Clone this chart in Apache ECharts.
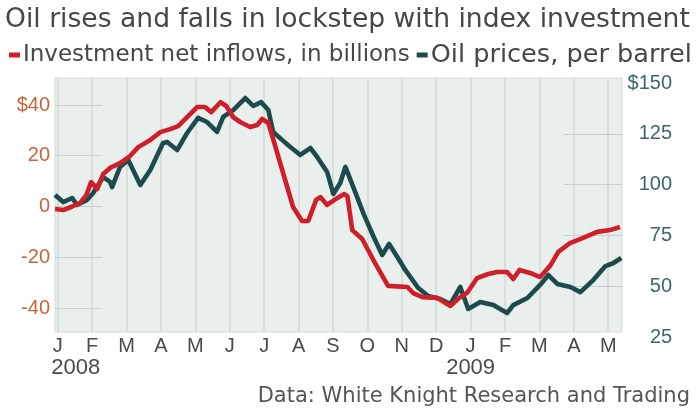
<!DOCTYPE html>
<html>
<head>
<meta charset="utf-8">
<script src="https://cdn.jsdelivr.net/npm/echarts@6/dist/echarts.min.js"></script>
<style>
html,body{margin:0;padding:0;background:#fff;}
#chart{width:697px;height:409px;}
</style>
</head>
<body>
<div id="chart"></div>
<script>
// ---- data (x in months since Jan 1 2008) ----
const monthLetters = ['J','F','M','A','M','J','J','A','S','O','N','D','J','F','M','A','M'];
const yearTexts = ['2008', '2009'];
const yearPositions = [0.52, 12];   // where each year label is centred, in months
const leftTicks = [-40, -20, 0, 20, 40];
const rightTicks = [50, 75, 100, 125, 150];
const rightBottomTickLabel = '25';

const investMonths = [-0.08,0.16,0.42,0.65,0.83,0.97,1.15,1.32,1.52,1.81,2.1,2.34,2.69,2.98,3.27,3.5,3.79,4.05,4.28,4.46,4.73,4.9,5.1,5.3,5.59,5.8,5.94,6.12,6.26,6.55,6.84,7.1,7.28,7.51,7.63,7.83,8.12,8.33,8.42,8.56,8.85,9.17,9.6,10.16,10.33,10.6,11.03,11.41,11.67,11.9,12.19,12.51,12.77,13.06,13.24,13.42,13.73,14.02,14.31,14.55,14.89,15.27,15.68,16.05,16.34];
const investValues = [-1,-1.4,0,1.4,4.5,9.6,6.9,12.8,15.2,17.1,19.9,23.4,26.2,29.3,30.5,31.7,35.6,39.2,39.2,37.2,41.1,39.6,35.2,33.3,31.3,32.1,34.5,32.9,26.6,13.2,-0.2,-5.7,-5.7,2.6,3.7,0.6,3.3,4.9,4.1,-9.3,-12.8,-21,-31.3,-31.7,-34.1,-35.7,-36,-39.2,-36,-34,-28.2,-26.6,-25.8,-25.8,-28.6,-25,-26.2,-27.8,-23.4,-17.9,-14.4,-12.4,-10,-9.3,-8.1];

const oilMonths = [-0.08,0.16,0.42,0.56,0.85,1.03,1.32,1.52,1.58,1.81,2.05,2.4,2.69,3.06,3.18,3.47,3.76,4.08,4.34,4.63,4.81,5.1,5.45,5.68,5.91,6.12,6.26,6.52,6.76,7.05,7.34,7.54,7.83,8.01,8.21,8.36,8.59,8.88,9.17,9.43,9.63,9.87,10.1,10.48,10.77,11.12,11.41,11.7,11.93,12.28,12.66,13.06,13.24,13.65,14.02,14.26,14.52,14.9,15.19,15.54,15.92,16.15,16.38];
const oilValues = [94.9,91.4,93.4,90,92.4,95.9,103.7,101.3,98.8,108.7,112.1,99.8,107.2,120.5,121,117,125.4,132.8,130.8,125.9,133.3,136.7,142.6,138.7,140.6,136.7,125.9,122,118.5,114.6,118,113.6,106.2,95.4,100.8,108.7,98.8,86,74.7,65.4,70.8,64.4,58,49.1,45.2,43.7,41.2,49.6,38.8,42.2,40.7,36.8,40.7,44.2,50.6,55.5,51.1,49.6,47.1,52.6,59.9,61.4,63.9];

// ---- layout constants ----
const X_MIN = -0.08, X_MAX = 16.4;
const LEFT_MIN = -49.46, LEFT_MAX = 50.64;
const RIGHT_MIN = 27.46, RIGHT_MAX = 152.46;
const LEFT_STUB_END = 1.3, RIGHT_STUB_START = 14.7;

const RED = '#cf1f2b', TEAL = '#1d4a4b';
const SANS = 'DejaVu Sans';
const ARIAL = 'Liberation Sans';
const INVEST_NAME = 'Investment net inflows, in billions';
const OIL_NAME = 'Oil prices, per barrel';

const zip = (a, b) => a.map((x, i) => [x, b[i]]);
const monthIdx = monthLetters.map((_, i) => i);

const chart = echarts.init(document.getElementById('chart'), null, { renderer: 'canvas' });

const stubStyle = { color: '#c6cfcc', width: 1, type: 'solid' };

chart.setOption({
  animation: false,
  backgroundColor: '#ffffff',
  title: [
    {
      text: 'Oil rises and falls in lockstep with index investment',
      left: 0, top: 2,
      textStyle: { fontFamily: SANS, fontSize: 26.6, fontWeight: 'normal', color: '#474747' }
    },
    {
      text: 'Data: White Knight Research and Trading',
      right: 2, top: 381,
      textStyle: { fontFamily: SANS, fontSize: 21, fontWeight: 'normal', color: '#555555' }
    }
  ],
  legend: {
    data: [INVEST_NAME, OIL_NAME],
    left: 4, top: 37,
    icon: 'rect', itemWidth: 11, itemHeight: 5, itemGap: 7,
    formatter: name => (name === INVEST_NAME ? '{a|' + name + '}' : '{b|' + name + '}'),
    textStyle: {
      fontFamily: SANS, color: '#474747', padding: [0, 0, 0, -2],
      rich: {
        a: { fontFamily: SANS, fontSize: 23, color: '#474747' },
        b: { fontFamily: SANS, fontSize: 25.6, color: '#474747' }
      }
    }
  },
  grid: {
    left: 55, right: 75, top: 78, bottom: 77,
    show: true, backgroundColor: '#e8efec', borderColor: '#d3dad7', borderWidth: 1
  },
  xAxis: [
    {
      type: 'value', min: X_MIN, max: X_MAX, position: 'bottom',
      axisLine: { show: false, onZero: false },
      axisTick: { show: false, customValues: monthIdx },
      splitLine: { show: true, lineStyle: { color: '#d2d9d6', width: 1.5 } },
      axisLabel: {
        customValues: monthIdx,
        showMinLabel: true, showMaxLabel: true, hideOverlap: false,
        margin: 4,
        fontFamily: ARIAL, fontSize: 20, color: '#4a4a4a',
        formatter: v => monthLetters[Math.round(v)]
      }
    },
    {
      type: 'value', min: X_MIN, max: X_MAX, position: 'bottom',
      axisLine: { show: false, onZero: false },
      axisTick: { show: false, customValues: yearPositions },
      splitLine: { show: false },
      axisLabel: {
        customValues: yearPositions,
        showMinLabel: true, showMaxLabel: true,
        margin: 25,
        fontFamily: ARIAL, fontSize: 22, color: '#4a4a4a',
        formatter: v => yearTexts[yearPositions.indexOf(v)] || ''
      }
    }
  ],
  yAxis: [
    {
      type: 'value', min: LEFT_MIN, max: LEFT_MAX, position: 'left',
      axisLine: { show: false, onZero: false }, axisTick: { show: false }, splitLine: { show: false },
      axisLabel: {
        customValues: leftTicks, margin: 5,
        fontFamily: ARIAL, fontSize: 20, color: '#c5653c',
        formatter: v => (v === 40 ? '$40' : String(v))
      }
    },
    {
      type: 'value', min: RIGHT_MIN, max: RIGHT_MAX, position: 'right',
      axisLine: { show: false, onZero: false }, axisTick: { show: false }, splitLine: { show: false },
      axisLabel: {
        customValues: rightTicks, margin: 50, align: 'right',
        fontFamily: ARIAL, fontSize: 20, color: '#3b6767',
        formatter: v => (v === 150 ? '$150' : String(v))
      },
      name: rightBottomTickLabel,
      nameLocation: 'start',
      nameGap: 5,
      nameTextStyle: { fontFamily: ARIAL, fontSize: 20, color: '#3b6767', align: 'left', verticalAlign: 'middle', padding: [0, 0, 0, 28] }
    }
  ],
  series: [
    {
      name: INVEST_NAME,
      type: 'line', xAxisIndex: 0, yAxisIndex: 0,
      data: zip(investMonths, investValues),
      showSymbol: false, symbol: 'none',
      lineStyle: { color: RED, width: 4.6, join: 'round' },
      itemStyle: { color: RED },
      z: 3,
      markLine: {
        silent: true, z: 1, symbol: ['none', 'none'], label: { show: false },
        lineStyle: stubStyle,
        data: leftTicks.map(v => [{ coord: [X_MIN, v] }, { coord: [LEFT_STUB_END, v] }])
      }
    },
    {
      name: OIL_NAME,
      type: 'line', xAxisIndex: 0, yAxisIndex: 1,
      data: zip(oilMonths, oilValues),
      showSymbol: false, symbol: 'none',
      lineStyle: { color: TEAL, width: 4.6, join: 'round' },
      itemStyle: { color: TEAL },
      z: 2,
      markLine: {
        silent: true, z: 1, symbol: ['none', 'none'], label: { show: false },
        lineStyle: stubStyle,
        data: rightTicks.filter(v => v < 150).map(v => [{ coord: [RIGHT_STUB_START, v] }, { coord: [X_MAX, v] }])
      }
    }
  ]
});
</script>
</body>
</html>
